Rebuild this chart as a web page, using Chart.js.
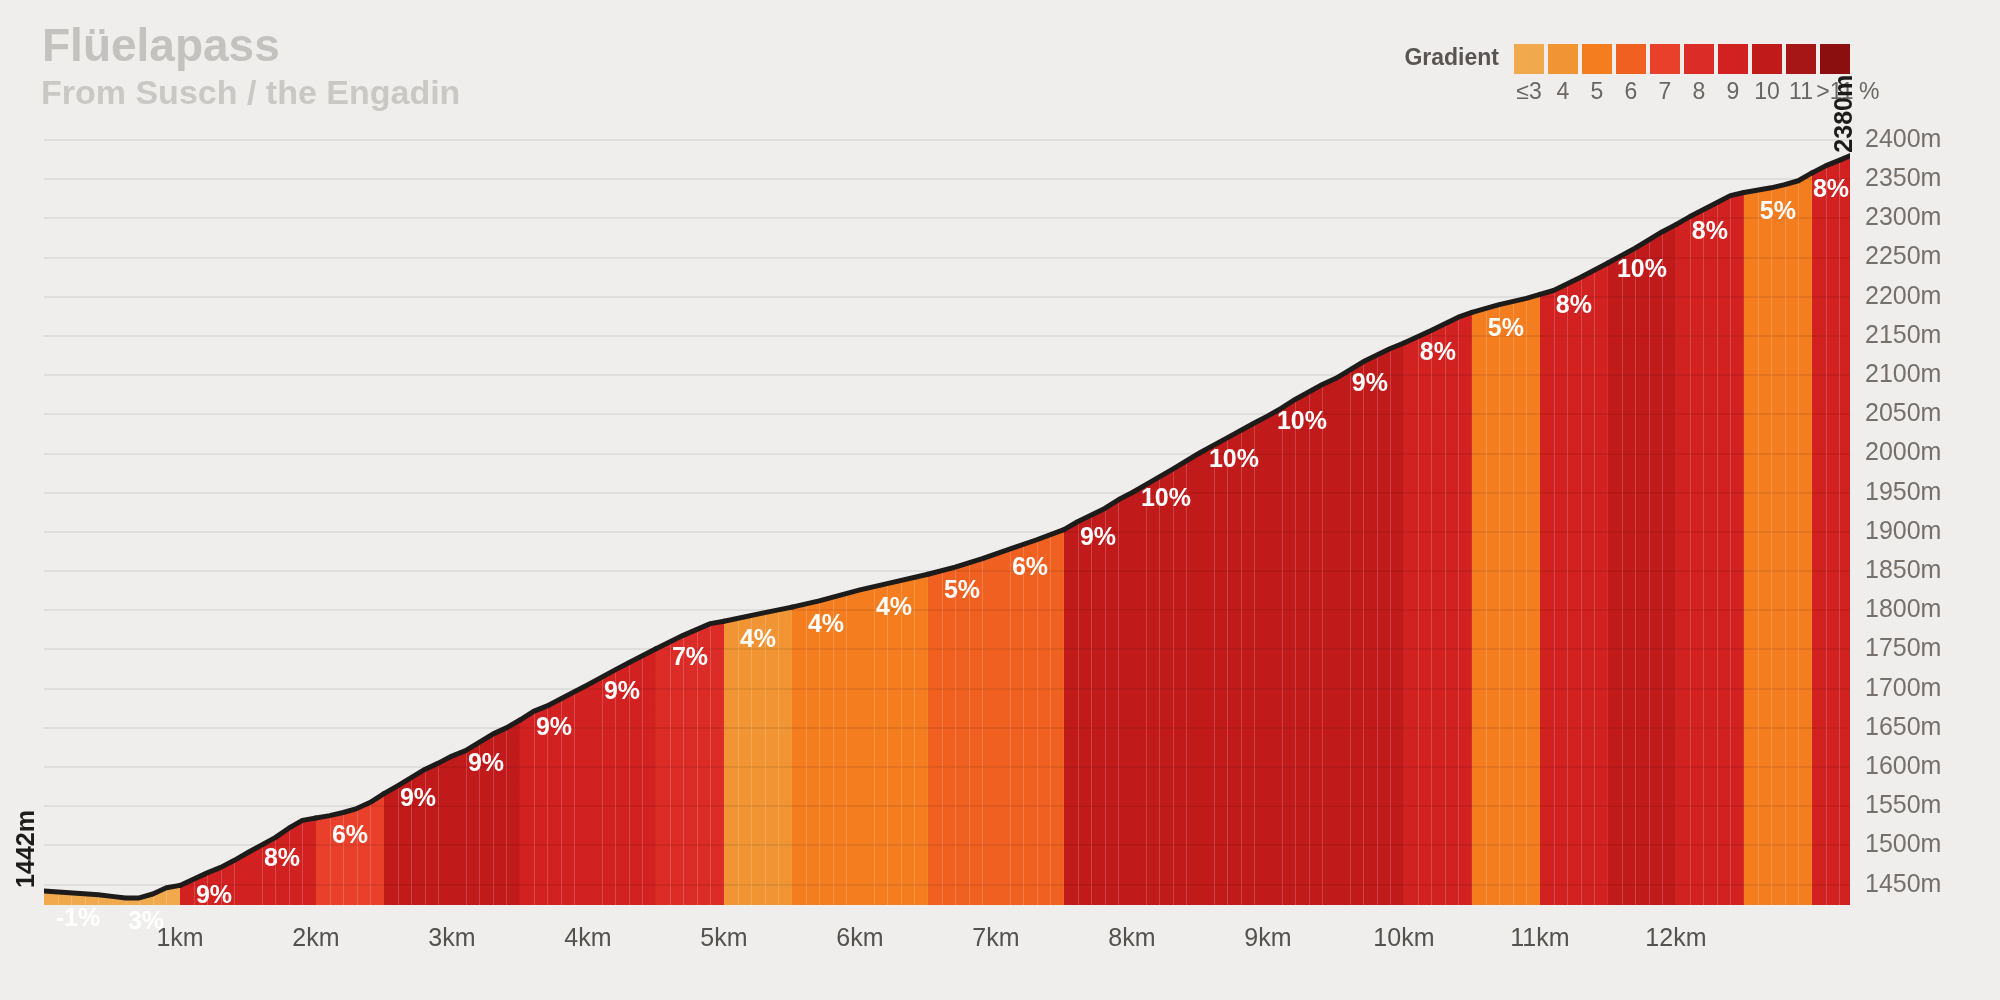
<!DOCTYPE html>
<html>
<head>
<meta charset="utf-8">
<title>Flüelapass</title>
<script src="https://cdn.jsdelivr.net/npm/chart.js@4.4.1/dist/chart.umd.min.js"></script>
<style>
  html, body { margin: 0; padding: 0; background: #efeeec; }
  #wrap { width: 2000px; height: 1000px; }
</style>
</head>
<body>
<div id="wrap"><canvas id="profile" width="2000" height="1000"></canvas></div>
<script>
// Profile: distance (km) and elevation (m)
const distanceKm = [
  0, 0.4, 0.5, 0.6, 0.7, 0.8, 0.9, 1.0, 1.2, 1.3, 1.4, 1.5, 1.7, 1.8, 1.9, 2.0,
  2.1, 2.2, 2.3, 2.4, 2.5, 2.6, 2.8, 2.9, 3.0, 3.1, 3.3, 3.4, 3.5, 3.6, 3.7, 3.9,
  4.0, 4.2, 4.3, 4.5, 4.7, 4.9, 5.0, 5.3, 5.5, 5.7, 6.0, 6.2, 6.5, 6.7, 6.9, 7.0,
  7.1, 7.3, 7.5, 7.6, 7.8, 7.9, 8.0, 8.1, 8.3, 8.5, 8.7, 8.9, 9.0, 9.1, 9.2, 9.4,
  9.5, 9.7, 9.9, 10.0, 10.2, 10.4, 10.5, 10.7, 10.9, 11.0, 11.1, 11.3, 11.5, 11.7,
  11.9, 12.0, 12.1, 12.3, 12.4, 12.5, 12.7, 12.8, 12.9, 13.0, 13.1, 13.2, 13.28
];
const elevationM = [
  1442, 1437, 1435, 1433, 1433, 1438, 1446, 1449, 1465, 1472, 1481, 1491, 1510, 1522, 1532, 1535,
  1538, 1542, 1547, 1555, 1566, 1576, 1597, 1605, 1614, 1621, 1642, 1650, 1660, 1671, 1678, 1696,
  1705, 1724, 1733, 1751, 1768, 1783, 1786, 1797, 1804, 1812, 1826, 1834, 1846, 1855, 1866, 1872,
  1878, 1890, 1903, 1913, 1930, 1941, 1950, 1960, 1980, 2001, 2020, 2039, 2048, 2058, 2069, 2088,
  2096, 2117, 2134, 2141, 2157, 2174, 2180, 2190, 2198, 2203, 2208, 2225, 2243, 2262,
  2283, 2292, 2302, 2320, 2329, 2333, 2339, 2343, 2348, 2358, 2367, 2374, 2380
];

// Half-kilometre sections: start, printed gradient, colour class (index in legend)
const segmentStartKm = [0, 0.5, 1, 1.5, 2, 2.5, 3, 3.5, 4, 4.5, 5, 5.5, 6, 6.5, 7, 7.5, 8, 8.5, 9, 9.5, 10, 10.5, 11, 11.5, 12, 12.5, 13];
const segmentGrade   = [-1, 3, 9, 8, 6, 9, 9, 9, 9, 7, 4, 4, 4, 5, 6, 9, 10, 10, 10, 9, 8, 5, 8, 10, 8, 5, 8];
const segmentBin     = [0, 0, 6, 6, 4, 7, 7, 6, 6, 5, 1, 2, 2, 3, 3, 7, 7, 7, 7, 7, 6, 2, 6, 7, 6, 2, 6];

// Legend
const binLabels = ['≤3', '4', '5', '6', '7', '8', '9', '10', '11', '>11'];
const binColors = ['#f0a94d', '#f19434', '#f47d20', '#f06121', '#e8402a', '#db2c27', '#d22121', '#c11a1a', '#a61616', '#8c0f0f'];

// Axis ticks
const kmTicks = [1, 2, 3, 4, 5, 6, 7, 8, 9, 10, 11, 12];
const elevationTicks = [1450, 1500, 1550, 1600, 1650, 1700, 1750, 1800, 1850, 1900, 1950, 2000, 2050, 2100, 2150, 2200, 2250, 2300, 2350, 2400];

const titleText = 'Flüelapass';
const subtitleText = 'From Susch / the Engadin';

const FONT = '"Liberation Sans", Arial, Helvetica, sans-serif';
const totalKm = distanceKm[distanceKm.length - 1];

function segmentIndexAt(km) {
    let idx = 0;
    for (let i = 0; i < segmentStartKm.length; i++) {
        if (km >= segmentStartKm[i] - 1e-9) idx = i;
    }
    return idx;
}

// Elevation along the drawn line, used only to place the % labels
function elevationAt(km) {
    for (let i = 1; i < distanceKm.length; i++) {
        if (km <= distanceKm[i]) {
            const t = (km - distanceKm[i - 1]) / (distanceKm[i] - distanceKm[i - 1]);
            return elevationM[i - 1] + t * (elevationM[i] - elevationM[i - 1]);
        }
    }
    return elevationM[elevationM.length - 1];
}

const profileDecor = {
    id: 'profileDecor',
    beforeDraw(chart) {
        const c = chart.ctx;
        c.save();
        c.fillStyle = '#efeeec';
        c.fillRect(0, 0, chart.width, chart.height);
        c.restore();
    },
    // thin light stripes every 100 m, under the line but over the fill
    beforeDatasetDraw(chart) {
        const c = chart.ctx;
        const a = chart.chartArea;
        const xs = chart.scales.x;
        const pts = chart.getDatasetMeta(0).data;
        c.save();
        c.beginPath();
        c.moveTo(pts[0].x, a.bottom);
        pts.forEach(p => c.lineTo(p.x, p.y));
        c.lineTo(pts[pts.length - 1].x, a.bottom);
        c.closePath();
        c.clip();
        c.strokeStyle = 'rgba(255,255,255,0.18)';
        c.lineWidth = 1;
        for (let i = 1; i / 10 < totalKm; i++) {
            if (i % 5 === 0) continue;
            const px = Math.round(xs.getPixelForValue(i / 10)) + 0.5;
            c.beginPath();
            c.moveTo(px, a.top);
            c.lineTo(px, a.bottom);
            c.stroke();
        }
        c.restore();
    },
    afterDraw(chart) {
        const c = chart.ctx;
        const a = chart.chartArea;
        const xs = chart.scales.x;
        const ys = chart.scales.y;
        c.save();

        // Title and subtitle
        c.textAlign = 'left';
        c.textBaseline = 'alphabetic';
        c.fillStyle = '#c4c2bf';
        c.font = 'bold 46px ' + FONT;
        c.fillText(titleText, a.left - 2, 61);
        c.fillStyle = '#cac8c5';
        c.font = 'bold 34px ' + FONT;
        c.fillText(subtitleText, a.left - 3, 104);

        // Gradient legend
        const sw = 30, stride = 34;
        const x0 = a.right - ((binColors.length - 1) * stride + sw);
        binColors.forEach((col, i) => {
            c.fillStyle = col;
            c.fillRect(x0 + i * stride, 44, sw, sw);
        });
        c.fillStyle = '#5a5552';
        c.font = 'bold 23px ' + FONT;
        c.textAlign = 'right';
        c.fillText('Gradient', x0 - 15, 65);
        c.fillStyle = '#6a6663';
        c.font = '23px ' + FONT;
        c.textAlign = 'center';
        binLabels.forEach((lab, i) => {
            c.fillText(lab, x0 + i * stride + sw / 2, 99);
        });
        c.textAlign = 'left';
        c.fillText('%', a.right + 9, 99);

        // Gradient labels per section
        c.fillStyle = '#ffffff';
        c.font = 'bold 25px ' + FONT;
        c.textAlign = 'center';
        c.textBaseline = 'middle';
        segmentStartKm.forEach((start, i) => {
            const end = i + 1 < segmentStartKm.length ? segmentStartKm[i + 1] : totalKm;
            const mid = (start + end) / 2;
            const px = xs.getPixelForValue(mid);
            const py = ys.getPixelForValue(elevationAt(mid)) + 26;
            c.fillText(segmentGrade[i] + '%', px, py);
        });

        // Start and summit elevations, rotated
        c.fillStyle = '#1d1c1b';
        c.font = 'bold 25px ' + FONT;
        c.textAlign = 'left';
        c.textBaseline = 'alphabetic';
        const y0 = ys.getPixelForValue(elevationM[0]);
        c.save();
        c.translate(a.left - 10.5, y0 - 3);
        c.rotate(-Math.PI / 2);
        c.fillText(elevationM[0] + 'm', 0, 0);
        c.restore();
        const xEnd = xs.getPixelForValue(totalKm);
        const yEnd = ys.getPixelForValue(elevationM[elevationM.length - 1]);
        c.save();
        c.translate(xEnd + 2, yEnd - 3);
        c.rotate(-Math.PI / 2);
        c.fillText(elevationM[elevationM.length - 1] + 'm', 0, 0);
        c.restore();

        c.restore();
    }
};

Chart.defaults.font.family = FONT;

const ctx = document.getElementById('profile').getContext('2d');
new Chart(ctx, {
    type: 'line',
    data: {
        datasets: [{
            data: distanceKm.map((d, i) => ({ x: d, y: elevationM[i] })),
            borderColor: '#1d1c1b',
            borderWidth: 5,
            borderJoinStyle: 'round',
            borderCapStyle: 'round',
            pointRadius: 0,
            tension: 0,
            fill: 'start',
            backgroundColor: binColors[0],
            segment: {
                backgroundColor: s => binColors[segmentBin[segmentIndexAt(s.p0.parsed.x)]]
            }
        }]
    },
    options: {
        responsive: false,
        animation: false,
        devicePixelRatio: 1,
        layout: { padding: { left: 44, top: 140, right: 0, bottom: 0 } },
        plugins: {
            legend: { display: false },
            tooltip: { enabled: false }
        },
        scales: {
            x: {
                type: 'linear',
                min: 0,
                max: totalKm,
                afterBuildTicks: s => { s.ticks = kmTicks.map(v => ({ value: v })); },
                afterFit: s => { s.height = 95; },
                ticks: {
                    callback: v => v + 'km',
                    font: { size: 25 },
                    color: '#55514e',
                    padding: 19,
                    maxRotation: 0,
                    autoSkip: false
                },
                grid: { display: false, drawTicks: false },
                border: { display: false }
            },
            y: {
                position: 'right',
                min: 1424,
                max: 2400,
                afterBuildTicks: s => { s.ticks = elevationTicks.map(v => ({ value: v })); },
                afterFit: s => { s.width = 150; },
                ticks: {
                    callback: v => v + 'm',
                    font: { size: 25 },
                    color: '#75706c',
                    padding: 15
                },
                grid: { color: 'rgba(0,0,0,0.065)', lineWidth: 2, drawTicks: false, z: 1 },
                border: { display: false }
            }
        }
    },
    plugins: [profileDecor]
});
</script>
</body>
</html>
